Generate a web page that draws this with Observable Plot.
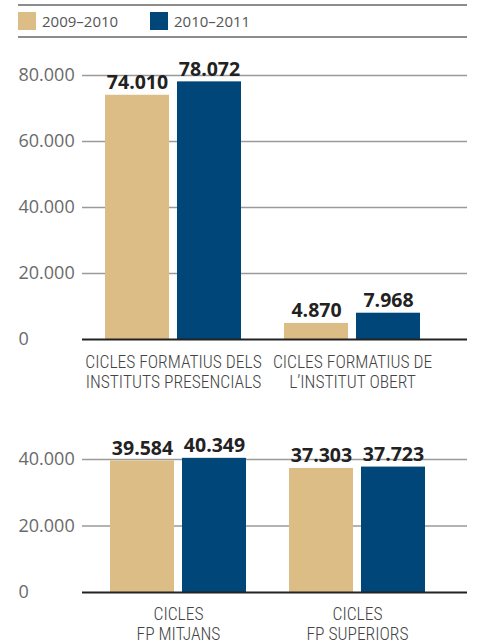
<!DOCTYPE html>
<html>
<head>
<meta charset="utf-8">
<script src="https://cdn.jsdelivr.net/npm/d3@7"></script>
<script src="https://cdn.jsdelivr.net/npm/@observablehq/plot@0.6"></script>
<style>
  html, body { margin: 0; padding: 0; background: #fff; width: 478px; height: 643px; overflow: hidden; }
  #legend { position: absolute; left: 18px; top: 4px; width: 449px; height: 30px;
    border-top: 2px solid #8c8c8c; border-bottom: 2px solid #8c8c8c; font-family: "Open Sans", sans-serif; }
  .item { position: absolute; top: 6px; height: 18px; display: flex; align-items: center; font-size: 15px; color: #555; }
  .sw { width: 18px; height: 18px; margin-right: 6px; }
  #top { position: absolute; left: 0; top: 40px; }
  #bottom { position: absolute; left: 0; top: 394px; }
</style>
</head>
<body>
<div id="legend"></div>
<div id="top"></div>
<div id="bottom"></div>
<script>
// ---- data ----
const series = ["2009–2010", "2010–2011"];
const colors = ["#dcbd86", "#004678"];

const topGroups = ["CICLES FORMATIUS DELS\nINSTITUTS PRESENCIALS", "CICLES FORMATIUS DE\nL’INSTITUT OBERT"];
const top2009 = [74010, 4870];
const top2010 = [78072, 7968];
const topTicks = [0, 20000, 40000, 60000, 80000];

const bottomGroups = ["CICLES\nFP MITJANS", "CICLES\nFP SUPERIORS"];
const bottom2009 = [39584, 37303];
const bottom2010 = [40349, 37723];
const bottomTicks = [0, 20000, 40000];

// ---- helpers ----
const loc = d3.formatLocale({decimal: ",", thousands: ".", grouping: [3], currency: ["", "€"]});
const fmt = loc.format(",d");
const narrow = "'Roboto Condensed', 'DejaVu Sans Condensed', 'Open Sans'";

// legend
const legend = document.getElementById("legend");
series.forEach((s, i) => {
  const it = document.createElement("div");
  it.className = "item";
  it.style.left = (i === 0 ? 0 : 132) + "px";
  it.innerHTML = `<span class="sw" style="background:${colors[i]}"></span><span>${s}</span>`;
  legend.appendChild(it);
});

function panel(groups, v1, v2, ticks, opts) {
  const d1 = groups.map((g, i) => ({group: g, value: v1[i]}));
  const d2 = groups.map((g, i) => ({group: g, value: v2[i]}));
  const gridTicks = ticks.filter(t => t > 0);
  return Plot.plot({
    width: 478,
    height: opts.height,
    marginLeft: 82,
    marginRight: 11,
    marginTop: opts.marginTop,
    marginBottom: opts.marginBottom,
    style: {fontFamily: "'Open Sans', sans-serif", background: "#fff", overflow: "visible"},
    x: {domain: groups, paddingInner: 0.2389, paddingOuter: 0.1889, align: opts.align, label: null, axis: null},
    y: {domain: [0, ticks[ticks.length - 1]], label: null},
    marks: [
      Plot.ruleY(gridTicks, {stroke: "#9a9a9a", strokeWidth: 1.5}),
      Plot.barY(d1, {x: "group", y: "value", fill: colors[0], insetRight: 72}),
      Plot.barY(d2, {x: "group", y: "value", fill: colors[1], insetLeft: 72}),
      Plot.text(d1, {x: "group", y: "value", text: d => fmt(d.value), dx: -36, dy: -6, lineAnchor: "bottom",
        fontSize: 19.5, fontWeight: "bold", fill: "#222"}),
      Plot.text(d2, {x: "group", y: "value", text: d => fmt(d.value), dx: 36, dy: -6, lineAnchor: "bottom",
        fontSize: 19.5, fontWeight: "bold", fill: "#222"}),
      Plot.ruleY([0], {stroke: "#222", strokeWidth: 2}),
      Plot.axisY({ticks: ticks, tickSize: 0, tickPadding: 64, textAnchor: "start", tickFormat: fmt,
        fontSize: 18, fill: "#6a6a6a", label: null}),
      Plot.text(groups, {x: d => d, text: d => d, frameAnchor: "bottom", lineAnchor: "top", dy: opts.xPad,
        fontSize: 17.5, lineHeight: 1.15, fontFamily: narrow, fontWeight: 300, fill: "#444"})
    ]
  });
}

document.getElementById("top").appendChild(
  panel(topGroups, top2009, top2010, topTicks, {height: 354, marginTop: 35, marginBottom: 55, align: 0.3235, xPad: 14})
);
document.getElementById("bottom").appendChild(
  panel(bottomGroups, bottom2009, bottom2010, bottomTicks, {height: 249, marginTop: 65, marginBottom: 51, align: 0.397, xPad: 13})
);
</script>
</body>
</html>
